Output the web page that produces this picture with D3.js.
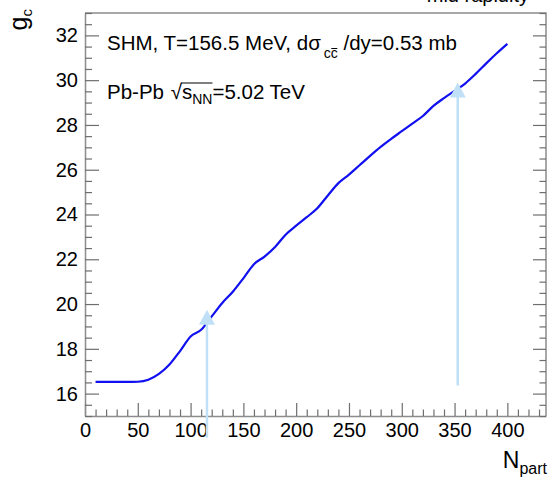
<!DOCTYPE html>
<html>
<head>
<meta charset="utf-8">
<script src="https://cdn.jsdelivr.net/npm/d3@7"></script>
<style>
  html, body { margin: 0; padding: 0; background: #fff; }
  svg { display: block; }
  text { font-family: "Liberation Sans", Arial, Helvetica, sans-serif; fill: #000; }
</style>
</head>
<body>
<svg id="chart" width="548" height="480"></svg>
<script>
// ---- data ----
const npart = [10, 20, 30, 40, 50, 60, 70, 80, 90, 100, 110, 120, 130, 140, 150, 160, 170, 180, 190, 200,
               210, 220, 230, 240, 250, 260, 270, 280, 290, 300, 310, 320, 330, 340, 350, 360, 370, 380, 390, 400];
const gc = [16.52, 16.52, 16.52, 16.52, 16.53, 16.62, 16.88, 17.30, 17.90, 18.55, 18.85, 19.45, 20.05, 20.55, 21.15, 21.78, 22.12, 22.55, 23.10, 23.50,
            23.88, 24.28, 24.85, 25.40, 25.78, 26.20, 26.62, 27.02, 27.38, 27.72, 28.06, 28.40, 28.85, 29.20, 29.52, 29.85, 30.28, 30.75, 31.20, 31.62];
const arrowX = [115.5, 353];
const arrowFrom = [14.03, 16.36];
const arrowTo = [19.75, 29.9];
const xTicks = [0, 50, 100, 150, 200, 250, 300, 350, 400];
const yTicks = [16, 18, 20, 22, 24, 26, 28, 30, 32];
const xDomain = [0, 436.6];
const yDomain = [15, 33];

// ---- layout ----
const L = 85, R = 546, T = 13, B = 416;
const svg = d3.select("#chart");
const x = d3.scaleLinear().domain(xDomain).range([L, R]);
const y = d3.scaleLinear().domain(yDomain).range([B, T]);
const axisColor = "#8c8c8c";

// frame (top and right)
svg.append("path")
  .attr("d", `M${L},${T}H${R}V${B}`)
  .attr("fill", "none").attr("stroke", axisColor).attr("stroke-width", 1.5);

// minor ticks
const xMinor = d3.range(0, 437, 10).filter(v => v % 50 !== 0);
const yMinor = d3.range(15, 33.01, 0.5).filter(v => v % 2 !== 0);

function styleAxis(g) {
  g.selectAll("path.domain").attr("stroke", axisColor).attr("stroke-width", 1.5);
  g.selectAll(".tick line").attr("stroke", "#6e6e6e").attr("stroke-width", 1.2);
  g.selectAll(".tick text").attr("font-size", 20).attr("fill", "#000")
    .attr("font-family", "'Liberation Sans', Arial, sans-serif");
}

// bottom axis
const gx = svg.append("g").attr("transform", `translate(0,${B})`)
  .call(d3.axisBottom(x).tickValues(xTicks).tickSizeInner(-13).tickSizeOuter(0).tickPadding(7).tickFormat(d3.format("d")));
styleAxis(gx);
const gxm = svg.append("g").attr("transform", `translate(0,${B})`)
  .call(d3.axisBottom(x).tickValues(xMinor).tickSizeInner(-6.5).tickSizeOuter(0).tickFormat(""));
gxm.select("path.domain").remove();
styleAxis(gxm);

// left axis
const gy = svg.append("g").attr("transform", `translate(${L},0)`)
  .call(d3.axisLeft(y).tickValues(yTicks).tickSizeInner(-14).tickSizeOuter(0).tickPadding(7).tickFormat(d3.format("d")));
styleAxis(gy);
const gym = svg.append("g").attr("transform", `translate(${L},0)`)
  .call(d3.axisLeft(y).tickValues(yMinor).tickSizeInner(-7).tickSizeOuter(0).tickFormat(""));
gym.select("path.domain").remove();
styleAxis(gym);

// right axis ticks (mirror)
const gr = svg.append("g").attr("transform", `translate(${R},0)`)
  .call(d3.axisRight(y).tickValues(yTicks).tickSizeInner(-13).tickSizeOuter(0).tickFormat(""));
gr.select("path.domain").remove();
styleAxis(gr);
const grm = svg.append("g").attr("transform", `translate(${R},0)`)
  .call(d3.axisRight(y).tickValues(yMinor).tickSizeInner(-6.5).tickSizeOuter(0).tickFormat(""));
grm.select("path.domain").remove();
styleAxis(grm);

// curve
const line = d3.line().x((d, i) => x(npart[i])).y(d => y(d)).curve(d3.curveMonotoneX);
svg.append("path").datum(gc)
  .attr("d", line)
  .attr("fill", "none").attr("stroke", "#1010f0").attr("stroke-width", 2.2);

// arrows
const arrowColor = "#bfe0f7";
const headLen = 15, headW = 8;
arrowX.forEach((ax, i) => {
  const px = x(ax), y0 = y(arrowFrom[i]), y1 = y(arrowTo[i]);
  svg.append("line")
    .attr("x1", px).attr("x2", px).attr("y1", y0).attr("y2", y1 + headLen - 1)
    .attr("stroke", arrowColor).attr("stroke-width", 2.5);
  svg.append("path")
    .attr("d", `M${px},${y1}L${px - headW},${y1 + headLen}L${px + headW},${y1 + headLen}Z`)
    .attr("fill", arrowColor);
});

// axis titles
const yt = svg.append("text")
  .attr("transform", "translate(27,9) rotate(-90)")
  .attr("text-anchor", "end").attr("font-size", 25);
yt.append("tspan").text("g");
yt.append("tspan").attr("font-size", 15).attr("dy", 5).text("c");

const xt = svg.append("text")
  .attr("x", 547).attr("y", 468).attr("text-anchor", "end").attr("font-size", 23);
xt.append("tspan").text("N");
xt.append("tspan").attr("font-size", 16).attr("dy", 6).text("part");

// top-right label (cut off at the top edge, as in the reference)
svg.append("text").attr("x", 529).attr("y", 2).attr("text-anchor", "end")
  .attr("font-size", 20).text("mid rapidity");

// annotation line 1
const t1 = svg.append("text").attr("x", 107).attr("y", 50).attr("font-size", 20.5);
t1.append("tspan").text("SHM, T=156.5 MeV, dσ");
t1.append("tspan").attr("font-size", 14).attr("dy", 8).attr("dx", 3).text("cc");
t1.append("tspan").attr("dy", -8).attr("dx", 0).text(" /dy=0.53 mb");
{
  const nodeAll = t1.node();
  const idx = "SHM, T=156.5 MeV, dσ".length + 1;
  const box = nodeAll.getExtentOfChar(idx);
  svg.append("line")
    .attr("x1", box.x + 0.5).attr("x2", box.x + box.width - 0.5)
    .attr("y1", box.y + 3.5).attr("y2", box.y + 3.5)
    .attr("stroke", "#000").attr("stroke-width", 1);
}

// annotation line 2
const t2 = svg.append("text").attr("x", 107).attr("y", 99).attr("font-size", 20.5);
t2.append("tspan").text("Pb-Pb ");
t2.append("tspan").attr("dx", 1).text("√");
t2.append("tspan").text("s");
t2.append("tspan").attr("font-size", 14).attr("dy", 5).text("NN");
t2.append("tspan").attr("dy", -5).text("=5.02 TeV");
{
  const node = t2.node();
  const sIdx = "Pb-Pb √".length;
  const bN = node.getExtentOfChar(sIdx + 2);
  const bR = node.getExtentOfChar(sIdx - 1);
  const yTop = bR.y + 3;
  svg.append("line")
    .attr("x1", bR.x + bR.width - 1).attr("x2", bN.x + bN.width)
    .attr("y1", yTop).attr("y2", yTop)
    .attr("stroke", "#000").attr("stroke-width", 1.2);
}
</script>
</body>
</html>
